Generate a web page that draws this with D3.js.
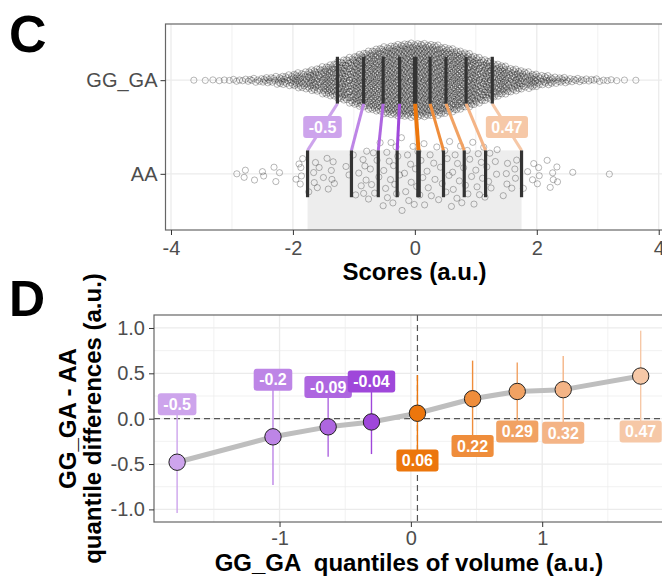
<!DOCTYPE html>
<html>
<head>
<meta charset="utf-8">
<script src="https://cdn.jsdelivr.net/npm/d3@7"></script>
<style>
  body { margin: 0; background: #fff; }
  svg { font-family: "Liberation Sans", Arial, Helvetica, sans-serif; }
</style>
</head>
<body>
<svg id="chart" width="662" height="577"></svg>
<script>
// ---------- data ----------
const groupNames = ["AA", "GG_GA"];           // y positions 1 and 2 in panel C

// GG_GA scores, counted in bins of 0.25 from -4 to 4
const ggBinStart = -4;
const ggBinWidth = 0.25;
const ggBinCounts = [0, 1, 2, 3, 5, 8, 13, 20, 32, 46, 64, 86, 108, 126, 140, 148,
                     148, 140, 126, 108, 86, 64, 46, 32, 20, 13, 8, 6, 4, 2, 1, 0];

// AA scores, one value per point
const aaScores = [
  -2.92, -2.80, -2.78, -2.63, -2.50, -2.48, -2.31, -2.28, -2.22, -1.95, -1.90, -1.88, -1.87, -1.86, -1.84,
  -1.74, -1.66, -1.65, -1.63, -1.60, -1.57, -1.50, -1.44, -1.42, -1.37, -1.36, -1.34, -1.32, -1.13, -1.08,
  -1.01, -0.97, -0.92, -0.88, -0.85, -0.84, -0.82, -0.80, -0.79, -0.76, -0.73, -0.71, -0.68, -0.66, -0.62,
  -0.59, -0.57, -0.52, -0.51, -0.48, -0.46, -0.45, -0.42, -0.40, -0.39, -0.36, -0.35, -0.33, -0.31, -0.30,
  -0.28, -0.25, -0.22, -0.21, -0.17, -0.15, -0.12, -0.10, -0.07, -0.06, -0.03, -0.01, 0.01, 0.03, 0.05,
  0.08, 0.10, 0.13, 0.15, 0.16, 0.20, 0.22, 0.25, 0.27, 0.31, 0.33, 0.36, 0.39, 0.42, 0.45,
  0.49, 0.51, 0.53, 0.56, 0.57, 0.60, 0.62, 0.63, 0.66, 0.69, 0.70, 0.73, 0.75, 0.77, 0.80,
  0.83, 0.86, 0.87, 0.90, 0.93, 0.95, 0.97, 1.00, 1.02, 1.04, 1.06, 1.09, 1.11, 1.13, 1.15,
  1.18, 1.21, 1.23, 1.25, 1.32, 1.34, 1.35, 1.45, 1.50, 1.51, 1.52, 1.59, 1.64, 1.65, 1.67,
  1.78, 1.85, 1.93, 1.95, 2.01, 2.03, 2.04, 2.17, 2.22, 2.26, 2.27, 2.33, 2.34, 2.59, 3.19
];

const ggDeciles = [-1.27, -0.84, -0.52, -0.25, 0.005, 0.25, 0.51, 0.84, 1.27];
const aaDeciles = [-1.76, -1.04, -0.60, -0.29, 0.06, 0.47, 0.81, 1.16, 1.75];
const decileColours = ["#cda4ec", "#bd85e6", "#ae66e0", "#9f47da",
                       "#ec760c", "#ef8d3b", "#f1a263", "#f4b486", "#f6c8a7"];

// panel D: shift function
const sfQuantiles = [-1.78, -1.05, -0.63, -0.30, 0.05, 0.47, 0.81, 1.16, 1.75];
const sfDiff      = [-0.48, -0.20, -0.09, -0.036, 0.06, 0.22, 0.30, 0.32, 0.47];
const sfLower     = [-1.04, -0.73, -0.42, -0.39, -0.46, -0.30, -0.14, -0.155, -0.14];
const sfUpper     = [0.16, 0.43, 0.35, 0.41, 0.48, 0.64, 0.62, 0.69, 0.97];
const sfLabels    = ["-0.5", "-0.2", "-0.09", "-0.04", "0.06", "0.22", "0.29", "0.32", "0.47"];
const sfMedian = 0.05;

const textCol = "#4d4d4d";
const gridCol = "#ebebeb";

const svg = d3.select("#chart");

// ---------- helpers ----------
function vdc(n) {
  let v = 0, denom = 1;
  while (n > 0) { denom *= 2; v += (n % 2) / denom; n = Math.floor(n / 2); }
  return v;
}

// quasirandom offsets (like ggbeeswarm): van der Corput by rank, scaled by density
function quasirandom(values, bw) {
  const sorted = values.slice().sort((a, b) => a - b);
  const dens = sorted.map(x => d3.sum(sorted, v => Math.exp(-0.5 * ((x - v) / bw) ** 2)));
  const maxD = d3.max(dens);
  return sorted.map((x, i) => ({ x: x, off: (vdc(i + 1) - 0.5) * 2 * dens[i] / maxD }));
}

function addLabel(g, x, y, text, fill) {
  const grp = g.append("g").attr("transform", `translate(${x},${y})`);
  const rect = grp.append("rect");
  const t = grp.append("text")
    .attr("text-anchor", "middle")
    .attr("dy", "0.36em")
    .attr("fill", "#fff")
    .attr("font-weight", "bold")
    .attr("font-size", 16)
    .text(text);
  const w = t.node().getComputedTextLength() + 11;
  rect.attr("x", -w / 2).attr("y", -11).attr("width", w).attr("height", 22)
    .attr("rx", 3).attr("fill", fill);
}

function styleAxis(sel) {
  sel.select(".domain").remove();
  sel.attr("font-family", null).attr("font-size", null);
  sel.selectAll("line").attr("stroke", "#333").attr("stroke-width", 1);
  sel.selectAll("text").attr("font-size", 20).attr("fill", textCol);
}

// ================= PANEL C =================
const cLeft = 165.5, cRight = 663.6, cTop = 24, cBottom = 230;
const xC = d3.scaleLinear().domain([-4.09, 4.08]).range([cLeft, cRight]);
const yC = d3.scaleLinear().domain([0.4, 2.6]).range([cBottom, cTop]);
const gC = svg.append("g");

// grid
gC.selectAll(".minorx").data([-3, -1, 1, 3]).enter().append("line")
  .attr("x1", d => xC(d)).attr("x2", d => xC(d)).attr("y1", cTop).attr("y2", cBottom)
  .attr("stroke", gridCol).attr("stroke-width", 0.7);
gC.selectAll(".majorx").data([-4, -2, 0, 2, 4]).enter().append("line")
  .attr("x1", d => xC(d)).attr("x2", d => xC(d)).attr("y1", cTop).attr("y2", cBottom)
  .attr("stroke", gridCol).attr("stroke-width", 1.3);
gC.selectAll(".majory").data([1, 2]).enter().append("line")
  .attr("x1", cLeft).attr("x2", cRight).attr("y1", d => yC(d)).attr("y2", d => yC(d))
  .attr("stroke", gridCol).attr("stroke-width", 1.3);

// shaded band spanning AA first..last decile
gC.append("rect")
  .attr("x", xC(aaDeciles[0]))
  .attr("width", xC(aaDeciles[8]) - xC(aaDeciles[0]))
  .attr("y", yC(1.25))
  .attr("height", cBottom - yC(1.25))
  .attr("fill", "#ededed");

// points
const ggScores = [];
ggBinCounts.forEach((c, b) => {
  const lo = ggBinStart + b * ggBinWidth;
  for (let k = 0; k < c; k++) ggScores.push(lo + (k + 0.5) * ggBinWidth / c);
});
const swarmHalf = 0.4;
const ggPts = quasirandom(ggScores, 0.15);
const aaPts = quasirandom(aaScores, 0.2);

function drawPoints(pts, level) {
  gC.append("g").selectAll("circle").data(pts).enter().append("circle")
    .attr("cx", d => xC(d.x))
    .attr("cy", d => yC(level + d.off * swarmHalf))
    .attr("r", 3.1)
    .attr("fill", "none")
    .attr("stroke", "#222")
    .attr("stroke-opacity", 0.36)
    .attr("stroke-width", 0.9);
}
drawPoints(ggPts, 2);
drawPoints(aaPts, 1);

// connecting lines between deciles
gC.selectAll(".link").data(ggDeciles).enter().append("line")
  .attr("x1", (d, i) => xC(d)).attr("y1", yC(1.75))
  .attr("x2", (d, i) => xC(aaDeciles[i])).attr("y2", yC(1.25))
  .attr("stroke", (d, i) => decileColours[i])
  .attr("stroke-width", (d, i) => i === 4 ? 4 : 3);

// decile segments
function drawDeciles(dec, level) {
  gC.append("g").selectAll("line").data(dec).enter().append("line")
    .attr("x1", d => xC(d)).attr("x2", d => xC(d))
    .attr("y1", yC(level + 0.25)).attr("y2", yC(level - 0.25))
    .attr("stroke", "#333")
    .attr("stroke-width", (d, i) => i === 4 ? 4.6 : 3.2);
}
drawDeciles(ggDeciles, 2);
drawDeciles(aaDeciles, 1);

// labels on first and last links
[0, 8].forEach(i => {
  const mx = (xC(ggDeciles[i]) + xC(aaDeciles[i])) / 2;
  const my = (yC(1.75) + yC(1.25)) / 2;
  addLabel(gC, mx, my, sfLabels[i], decileColours[i]);
});

// border
gC.append("rect").attr("x", cLeft).attr("y", cTop)
  .attr("width", cRight - cLeft).attr("height", cBottom - cTop)
  .attr("fill", "none").attr("stroke", "#666").attr("stroke-width", 1.2);

// axes
gC.append("g").attr("transform", `translate(0,${cBottom})`)
  .call(d3.axisBottom(xC).tickValues([-4, -2, 0, 2, 4]).tickSize(5).tickPadding(6)
    .tickFormat(d => String(d)))
  .call(styleAxis);
gC.append("g").attr("transform", `translate(${cLeft},0)`)
  .call(d3.axisLeft(yC).tickValues([1, 2]).tickSize(5).tickPadding(3)
    .tickFormat(d => groupNames[d - 1]))
  .call(styleAxis);

gC.append("text").attr("x", (cLeft + cRight) / 2).attr("y", 280)
  .attr("text-anchor", "middle").attr("font-weight", "bold").attr("font-size", 24)
  .attr("fill", "#000").text("Scores (a.u.)");

svg.append("text").attr("x", 9).attr("y", 52)
  .attr("font-weight", "bold").attr("font-size", 52).text("C");

// ================= PANEL D =================
const dLeft = 154, dRight = 663.8, dTop = 315, dBottom = 522;
const xD = d3.scaleLinear().domain([-1.956, 1.926]).range([dLeft, dRight]);
const yD = d3.scaleLinear().domain([-1.139, 1.143]).range([dBottom, dTop]);
const gD = svg.append("g");

gD.selectAll(".minx").data([-1.5, -0.5, 0.5, 1.5]).enter().append("line")
  .attr("x1", d => xD(d)).attr("x2", d => xD(d)).attr("y1", dTop).attr("y2", dBottom)
  .attr("stroke", gridCol).attr("stroke-width", 0.7);
gD.selectAll(".miny").data([-0.75, -0.25, 0.25, 0.75]).enter().append("line")
  .attr("x1", dLeft).attr("x2", dRight).attr("y1", d => yD(d)).attr("y2", d => yD(d))
  .attr("stroke", gridCol).attr("stroke-width", 0.7);
gD.selectAll(".majx").data([-1, 0, 1]).enter().append("line")
  .attr("x1", d => xD(d)).attr("x2", d => xD(d)).attr("y1", dTop).attr("y2", dBottom)
  .attr("stroke", gridCol).attr("stroke-width", 1.3);
gD.selectAll(".majy").data([-1, -0.5, 0, 0.5, 1]).enter().append("line")
  .attr("x1", dLeft).attr("x2", dRight).attr("y1", d => yD(d)).attr("y2", d => yD(d))
  .attr("stroke", gridCol).attr("stroke-width", 1.3);

// reference lines
gD.append("line").attr("x1", dLeft).attr("x2", dRight).attr("y1", yD(0)).attr("y2", yD(0))
  .attr("stroke", "#555").attr("stroke-width", 1.2).attr("stroke-dasharray", "6,4");
gD.append("line").attr("x1", xD(sfMedian)).attr("x2", xD(sfMedian)).attr("y1", dTop).attr("y2", dBottom)
  .attr("stroke", "#555").attr("stroke-width", 1.2).attr("stroke-dasharray", "6,4");

// confidence intervals
gD.selectAll(".ci").data(sfQuantiles).enter().append("line")
  .attr("x1", d => xD(d)).attr("x2", d => xD(d))
  .attr("y1", (d, i) => yD(sfLower[i])).attr("y2", (d, i) => yD(sfUpper[i]))
  .attr("stroke", (d, i) => decileColours[i]).attr("stroke-width", 1.4);

// connecting line
const sfLine = d3.line().x(d => xD(d[0])).y(d => yD(d[1]));
gD.append("path").datum(sfQuantiles.map((q, i) => [q, sfDiff[i]]))
  .attr("d", sfLine).attr("fill", "none")
  .attr("stroke", "#bebebe").attr("stroke-width", 5).attr("stroke-linejoin", "round");

// points
gD.selectAll(".pt").data(sfQuantiles).enter().append("circle")
  .attr("cx", d => xD(d)).attr("cy", (d, i) => yD(sfDiff[i])).attr("r", 8.2)
  .attr("fill", (d, i) => decileColours[i]).attr("stroke", "#222").attr("stroke-width", 1);

// labels at the CI end away from the line
sfQuantiles.forEach((q, i) => {
  const ly = sfDiff[i] < 0 ? sfUpper[i] : sfLower[i];
  addLabel(gD, xD(q), yD(ly), sfLabels[i], decileColours[i]);
});

gD.append("rect").attr("x", dLeft).attr("y", dTop)
  .attr("width", dRight - dLeft).attr("height", dBottom - dTop)
  .attr("fill", "none").attr("stroke", "#666").attr("stroke-width", 1.2);

gD.append("g").attr("transform", `translate(0,${dBottom})`)
  .call(d3.axisBottom(xD).tickValues([-1, 0, 1]).tickSize(5).tickPadding(4)
    .tickFormat(d => String(d)))
  .call(styleAxis);
gD.append("g").attr("transform", `translate(${dLeft},0)`)
  .call(d3.axisLeft(yD).tickValues([-1, -0.5, 0, 0.5, 1]).tickSize(5).tickPadding(4)
    .tickFormat(d => d.toFixed(1)))
  .call(styleAxis);

gD.append("text").attr("x", (dLeft + dRight) / 2).attr("y", 571)
  .attr("text-anchor", "middle").attr("font-weight", "bold").attr("font-size", 24)
  .attr("xml:space", "preserve").style("white-space", "pre")
  .text("GG_GA  quantiles of volume (a.u.)");

const yTitleC = (dTop + dBottom) / 2;
gD.append("text").attr("transform", `translate(76,${yTitleC}) rotate(-90)`)
  .attr("text-anchor", "middle").attr("font-weight", "bold").attr("font-size", 24)
  .text("GG_GA - AA");
gD.append("text").attr("transform", `translate(101,${yTitleC}) rotate(-90)`)
  .attr("text-anchor", "middle").attr("font-weight", "bold").attr("font-size", 24)
  .text("quantile differences (a.u.)");

svg.append("text").attr("x", 9).attr("y", 316)
  .attr("font-weight", "bold").attr("font-size", 50).text("D");
</script>
</body>
</html>
